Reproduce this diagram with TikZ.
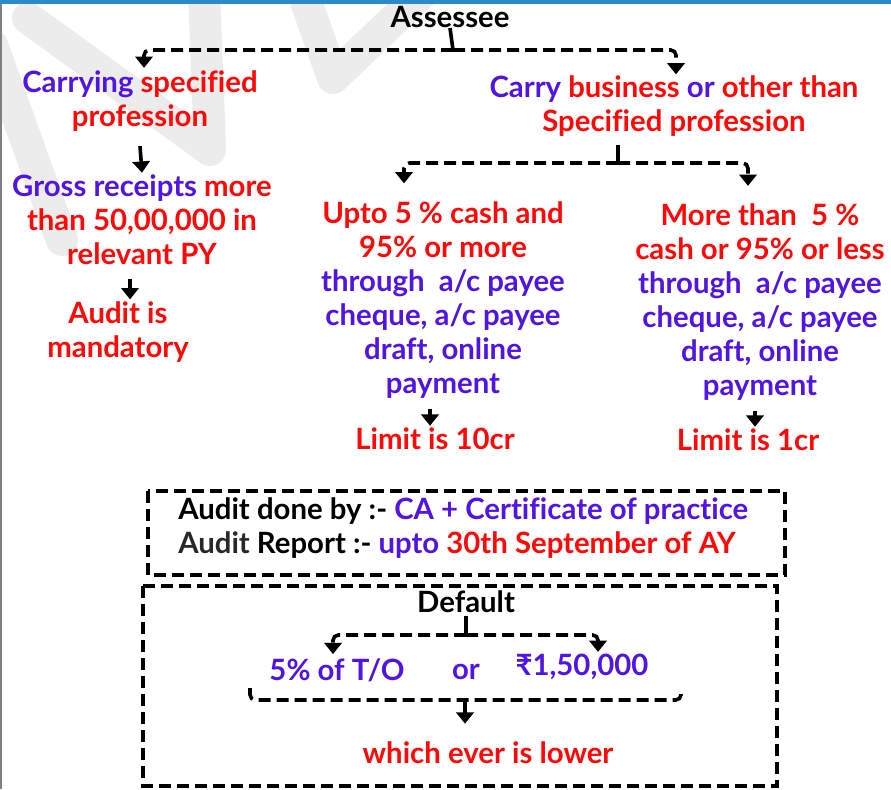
\documentclass[tikz,border=0pt]{standalone}
\usepackage{fontspec}
\setmainfont{Lato}[Ligatures=NoCommon]
\usetikzlibrary{arrows.meta,calc}
\definecolor{bl}{RGB}{80,20,228}
\definecolor{rd}{RGB}{255,8,8}
\definecolor{wmgray}{RGB}{236,236,236}
\definecolor{topbar}{RGB}{44,138,203}
\definecolor{dk}{RGB}{40,40,40}
\tikzset{
  dl/.style={line width=2.7pt, dash pattern=on 9pt off 4.5pt, rounded corners=4pt},
  stub/.style={line width=2.7pt},
  tip/.style={-{Triangle[width=13pt,length=8.5pt]}},
  arr/.style={line width=2.7pt,-{Triangle[width=13pt,length=8.5pt]}},
  txt/.style={font=\fontsize{22}{25.5}\selectfont\bfseries, align=center, inner sep=0pt},
  wm/.style={draw=wmgray, line width=24pt, line cap=round, line join=round},
  dbox/.style={line width=2.7pt, dash pattern=on 9pt off 4.5pt},
}
\begin{document}
\begin{tikzpicture}[x=0.75pt,y=-0.75pt]
\useasboundingbox (0,0) rectangle (891,789);
\fill[white] (0,0) rectangle (891,789);
% watermark
\draw[wm] (28,18) -- (210,150) -- (204,-10);
\draw[wm] (-8,45) -- (62,240);
\draw[wm] (302,-10) -- (333,78) -- (425,-10);
% frame
\fill[topbar] (0,0) rectangle (891,4);
\fill[gray] (0,4) rectangle (1.5,789);

% nodes
\node[txt] (ass) at (450,17) {Assessee};
\node[txt] (n1) at (140,101.5) {\textcolor{bl}{Carrying} \textcolor{rd}{specified}\\\textcolor{rd}{profession}};
\node[txt] (n2) at (142,220) {\textcolor{bl}{Gross receipts} \textcolor{rd}{more}\\\textcolor{rd}{than 50,00,000 in}\\\textcolor{rd}{relevant PY}};
\node[txt,text=rd] (n3) at (118,332) {Audit is\\mandatory};
\node[txt] (n4) at (674,106) {\textcolor{bl}{Carry} \textcolor{rd}{business} \textcolor{bl}{or} \textcolor{rd}{other than}\\\textcolor{rd}{Specified profession}};
\node[txt] (n5) at (443,300) {\textcolor{rd}{Upto 5 \% cash and}\\\textcolor{rd}{95\% or more}\\\textcolor{bl}{through\ \ a/c payee}\\\textcolor{bl}{cheque, a/c payee}\\\textcolor{bl}{draft, online}\\\textcolor{bl}{payment}};
\node[txt] (n6) at (760,302.5) {\textcolor{rd}{More than\ \ 5 \%}\\\textcolor{rd}{cash or 95\% or less}\\\textcolor{bl}{through\ \ a/c payee}\\\textcolor{bl}{cheque, a/c payee}\\\textcolor{bl}{draft, online}\\\textcolor{bl}{payment}};
\node[txt,text=rd] (n7) at (435,439) {Limit is 10cr};
\node[txt,text=rd] (n8) at (748,440) {Limit is 1cr};

\node[txt,align=left,anchor=west] (au) at (178,528) {\textcolor{black}{Audit done by :-} \textcolor{bl}{CA + Certificate of practice}\\\textcolor{dk}{Audit} Report :- \textcolor{bl}{upto} \textcolor{rd}{30th September of AY}};
\draw[dbox] (148,491) rectangle (785,575);
\draw[dbox] (143,586) rectangle (777,786);

\node[txt] (def) at (466,602) {Default};
\node[txt,text=bl] (five) at (337,670) {5\% of T/O};
\node[txt,text=bl] (or) at (466,672) {or};
\node[txt,text=bl] (rup) at (582,667) {₹1,50,000};
\node[txt,text=rd] (low) at (488,753) {which ever is lower};

% connectors
\coordinate (j1) at (453,50);
\draw[stub] (ass.south) -- (j1);
\draw[dl,tip] (j1) -| ($(n1.north)+(4,-3)$);
\draw[dl,tip] (j1) -| ($(n4.north)+(2,-1)$);
\draw[arr] ($(n1.south)+(0,14)$) -- ($(n2.north)+(0,-2)$);
\draw[arr] ($(n2.south)+(-12,14)$) -- ($(n3.north)+(12,-2)$);

\coordinate (j2) at (618,163);
\draw[stub] ($(n4.south)+(-56,8)$) -- (j2);
\draw[dl,tip] (j2) -| ($(n5.north)+(-39,-18)$);
\draw[dl,tip] (j2) -| ($(n6.north)+(-12,-18)$);
\draw[arr] ($(n5.south)+(-13,10)$) -- ($(n7.north)+(-5,-2)$);
\draw[arr] ($(n6.south)+(-5,10)$) -- ($(n8.north)+(7,-2)$);

\coordinate (j3) at (466,635);
\draw[stub] ($(def.south)+(0,3)$) -- (j3);
\draw[dl,tip] (j3) -| ($(five.north)+(-4,-4)$);
\draw[dl,tip] (j3) -| ($(rup.north)+(16,-2)$);

\coordinate (bL) at (250,688);
\coordinate (bR) at (681,688);
\coordinate (bM) at (465,700);
\draw[dl] (bL) |- (bM) -| (bR);
\draw[arr] (bM) -- ($(low.north)+(-23,-18)$);
\end{tikzpicture}
\end{document}
